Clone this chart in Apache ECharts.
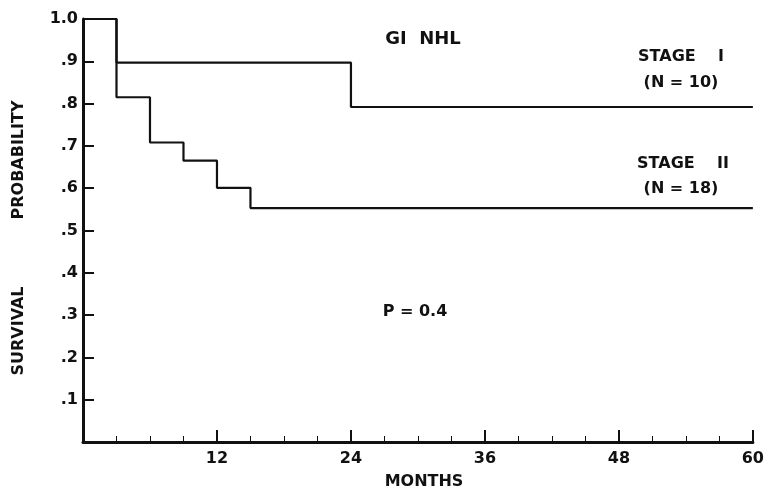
<!DOCTYPE html>
<html>
<head>
<meta charset="utf-8">
<script src="https://cdn.jsdelivr.net/npm/echarts@6/dist/echarts.min.js"></script>
<style>
  html, body { margin: 0; padding: 0; background: #fff; }
  #chart { width: 767px; height: 494px; }
</style>
</head>
<body>
<div id="chart"></div>
<script>
var myChart = echarts.init(document.getElementById('chart'));

// 数据 (月, 生存概率) —— 从图上读出
var stage1Months = [0, 3, 24, 60];
var stage1Surv = [1.0, 0.897, 0.792, 0.792];
var stage2Months = [0, 3, 6, 9, 12, 15, 60];
var stage2Surv = [1.0, 0.815, 0.708, 0.665, 0.601, 0.553, 0.553];
var xTicks = [12, 24, 36, 48, 60];

var FONT = 'DejaVu Sans';
var INK = '#111';

function pairs(xs, ys) {
    return xs.map(function (x, i) { return [x, ys[i]]; });
}

function label(text, x, y, size, rot) {
    return {
        type: 'text',
        x: x,
        y: y,
        rotation: rot || 0,
        style: {
            text: text,
            fill: INK,
            font: 'bold ' + size + 'px "' + FONT + '"',
            align: 'center',
            verticalAlign: 'middle'
        }
    };
}

var option = {
    backgroundColor: '#fff',
    animation: false,
    grid: { left: 83, right: 11, top: 19, bottom: 52 },
    xAxis: {
        type: 'value',
        min: 0,
        max: 60,
        interval: 12,
        axisLine: { lineStyle: { color: INK, width: 3 } },
        axisTick: { inside: true, length: 12, lineStyle: { color: INK, width: 2 } },
        minorTick: { show: true, splitNumber: 4, length: 6, lineStyle: { color: INK, width: 1 } },
        splitLine: { show: false },
        axisLabel: {
            margin: 9,
            color: INK,
            fontFamily: FONT,
            fontWeight: 'bold',
            fontSize: 16,
            formatter: function (v) { return xTicks.indexOf(v) >= 0 ? String(v) : ''; }
        }
    },
    yAxis: {
        type: 'value',
        min: 0,
        max: 1,
        interval: 0.1,
        axisLine: { show: true, lineStyle: { color: INK, width: 3 } },
        axisTick: { show: true, inside: true, length: 11, lineStyle: { color: INK, width: 2 } },
        splitLine: { show: false },
        axisLabel: {
            margin: 5,
            color: INK,
            fontFamily: FONT,
            fontWeight: 'bold',
            fontSize: 16,
            formatter: function (v) {
                if (v === 0) return '';
                if (Math.abs(v - 1) < 1e-6) return '1.0';
                return '.' + Math.round(v * 10);
            }
        }
    },
    series: [
        {
            name: 'STAGE I',
            type: 'line',
            step: 'end',
            symbol: 'none',
            data: pairs(stage1Months, stage1Surv),
            lineStyle: { color: INK, width: 2.2 }
        },
        {
            name: 'STAGE II',
            type: 'line',
            step: 'end',
            symbol: 'none',
            data: pairs(stage2Months, stage2Surv),
            lineStyle: { color: INK, width: 2.2 }
        }
    ],
    graphic: [
        label('GI  NHL', 423, 39, 18),
        label('STAGE    I', 681, 57, 16),
        label('(N = 10)', 681, 83, 16),
        label('STAGE    II', 683, 164, 16),
        label('(N = 18)', 681, 189, 16),
        label('P = 0.4', 415, 312, 16),
        label('MONTHS', 424, 482, 16),
        label('PROBABILITY', 19, 160, 16, Math.PI / 2),
        label('SURVIVAL', 19, 331, 16, Math.PI / 2)
    ]
};

myChart.setOption(option);
</script>
</body>
</html>
